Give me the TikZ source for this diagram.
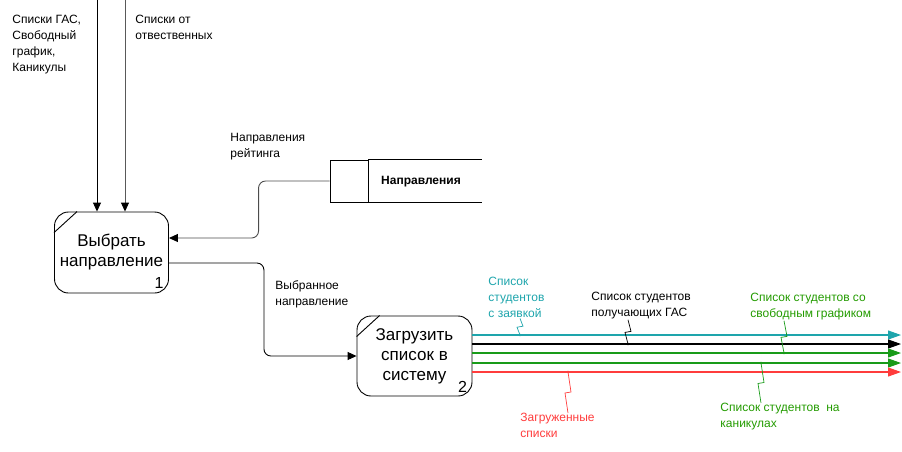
\documentclass[tikz,border=0pt]{standalone}
\usepackage{fontspec}
\setmainfont{Liberation Sans}
\usetikzlibrary{arrows.meta,calc}
\definecolor{flowteal}{RGB}{30,165,172}
\definecolor{flowgreen}{RGB}{25,155,25}
\definecolor{labelgreen}{RGB}{35,155,0}
\definecolor{flowred}{RGB}{255,60,60}
\begin{document}
\begin{tikzpicture}[x = 1pt, y = -1pt, line width = 0.9pt,
        process/.style = {draw, rounded corners = 14pt, minimum width = 114pt, minimum height = 81pt, align = center, font = \fontsize{17}{20}\selectfont},
        flow/.style = {-{Triangle[length = 9pt, width = 8pt, color = black]}},
        outflow/.style = {-{Triangle[length = 13pt, width = 9pt]}, line width = 1.1pt},
        note/.style = {anchor = north west, align = left, inner sep = 0pt},
        zig/.style = {to path = {-- ($(\tikztostart)!0.5!(\tikztotarget) + (3,-0.5)$) -- ($(\tikztostart)!0.5!(\tikztotarget) + (-3,0.5)$) -- (\tikztotarget)}}]
        \useasboundingbox (0,0) rectangle (902,451);
        % processes
        \node [process] (choose) at (111.5,252.5) {Выбрать\\направление};
        \draw ([yshift = -21pt]choose.north west) -- ([xshift = 23pt]choose.north west);
        \node [font = \fontsize{16}{16}\selectfont] (chooseNum) at ([xshift = -10pt, yshift = 10pt]choose.south east) {1};
        \node [process, minimum width = 115pt, minimum height = 80pt] (load) at (414.5,356) {Загрузить\\список в\\систему};
        \draw ([yshift = -21pt]load.north west) -- ([xshift = 23pt]load.north west);
        \node [font = \fontsize{16}{16}\selectfont] (loadNum) at ([xshift = -10pt, yshift = 10pt]load.south east) {2};
        % data store
        \node [draw, minimum width = 38pt, minimum height = 42pt] (storeId) at (349,181) {};
        \draw (storeId.north east) -- ++(114,0) (storeId.south east) -- ++(114,0);
        \node [font = \bfseries\fontsize{12}{14}\selectfont] (store) at (421,182) {Направления};
        % inputs
        \coordinate (srcA) at (97,0);
        \coordinate (srcB) at (125,0);
        \draw [flow] (srcA) -- (srcA |- choose.north);
        \draw [flow, black!65] (srcB) -- (srcB |- choose.north);
        \draw [flow, black!70, rounded corners = 7pt] (storeId.west) -- ++(-71,0) |- ([yshift = 14.5pt]choose.east);
        \draw [flow, rounded corners = 7pt] ([yshift = -10.5pt]choose.east) -- ++(95,0) |- (load.west);
        % outputs
        \coordinate (outA) at (901,335);
        \coordinate (outB) at (901,344);
        \coordinate (outC) at (901,353);
        \coordinate (outD) at (901,363);
        \coordinate (outE) at (901,372);
        \draw [outflow, flowteal] (load.east |- outA) -- (outA);
        \draw [outflow, black] (load.east |- outB) -- (outB);
        \draw [outflow, flowgreen] (load.east |- outC) -- (outC);
        \draw [outflow, flowgreen] (load.east |- outD) -- (outD);
        \draw [outflow, flowred] (load.east |- outE) -- (outE);
        \coordinate (dotA) at (520,335);
        \coordinate (dotB) at (628,344);
        \coordinate (dotC) at (784,353);
        \coordinate (dotD) at (761,363);
        \coordinate (dotE) at (568,372);
        % labels
        \begin{scope}[font = \fontsize{12}{16}\selectfont]
            \node [note] (inA) at (12,15) {Списки ГАС,\\Свободный\\график,\\Каникулы};
            \node [note] (inB) at (135,15) {Списки от\\отвественных};
            \node [note] (rating) at (230,133) {Направления\\рейтинга};
            \node [note] (chosen) at (275,280) {Выбранное\\направление};
            \node [note, flowteal] (lblA) at (488,277) {Список\\студентов\\с заявкой};
            \node [note] (lblB) at (591,292) {Список студентов\\получающих ГАС};
            \node [note, labelgreen] (lblC) at (750,293) {Список студентов со\\свободным графиком};
            \node [note, labelgreen] (lblD) at (720,403) {Список студентов~ на\\каникулах};
            \node [note, flowred] (lblE) at (520,413) {Загруженные\\списки};
        \end{scope}
        \begin{scope}[line width = 0.7pt]
            \draw [flowteal, zig] (lblA.south -| dotA) to (dotA);
            \fill [flowteal] (dotA) circle (1.4);
            \draw [zig] (lblB.south -| dotB) to (dotB);
            \fill (dotB) circle (1.4);
            \draw [flowgreen, zig] (lblC.south -| dotC) to (dotC);
            \fill [flowgreen] (dotC) circle (1.4);
            \draw [flowgreen, zig] (dotD) to (lblD.north -| dotD);
            \fill [flowgreen] (dotD) circle (1.4);
            \draw [flowred, zig] (dotE) to (lblE.north -| dotE);
            \fill [flowred] (dotE) circle (1.4);
        \end{scope}
    \end{tikzpicture}
\end{document}
